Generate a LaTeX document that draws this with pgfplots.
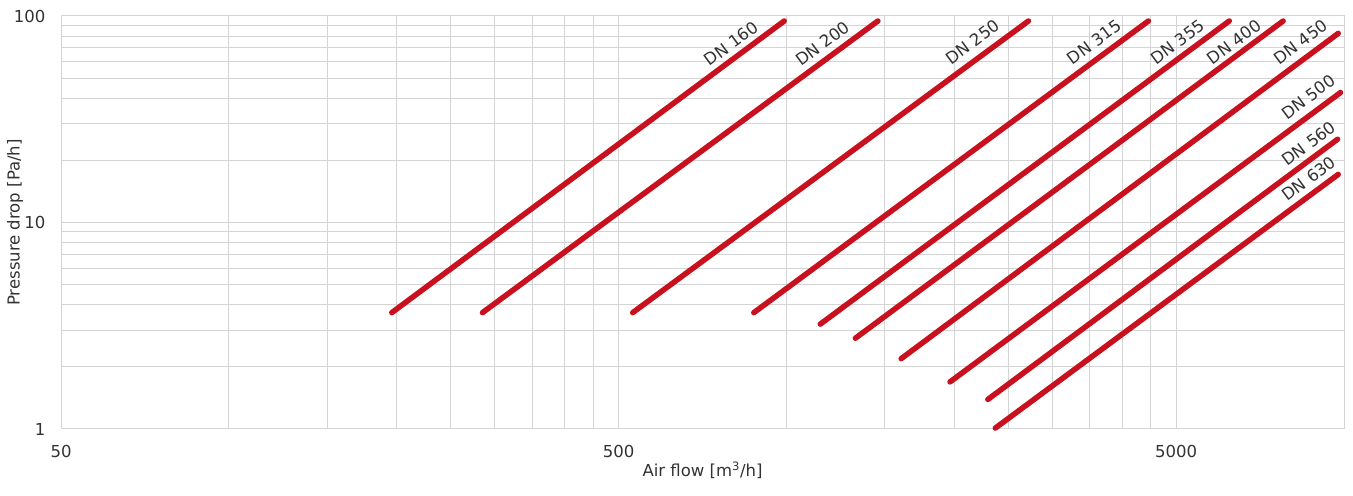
\documentclass[border=0pt]{standalone}
\usepackage{pgfplots}
\pgfplotsset{compat=1.18}
\usepackage{fontspec}
\setmainfont{DejaVu Sans}
\definecolor{linered}{RGB}{200,16,30}
\definecolor{gridgray}{RGB}{212,212,212}
\definecolor{txt}{RGB}{50,50,50}
\tikzset{dn/.style={draw=linered, line width=5.5pt, line cap=round, mark=none}}
\begin{document}
\begin{tikzpicture}
\begin{loglogaxis}[
  name=ax,
  scale only axis,
  width=1283pt, height=413pt,
  xmin=50, xmax=10000, ymin=1, ymax=100,
  xtick={50,500,5000}, xticklabels={50,500,5000},
  ytick={1,10,100}, yticklabels={1,10,100},
  minor xtick={100,150,200,250,300,350,400,450,1000,1500,2000,2500,3000,3500,4000,4500},
  minor ytick={2,3,4,5,6,7,8,9,20,30,40,50,60,70,80,90},
  grid=both,
  major grid style={gridgray, line width=1pt},
  minor grid style={gridgray, line width=1pt},
  axis line style={gridgray, line width=1pt},
  major tick length=0pt, minor tick length=0pt,
  tick style={draw=none},
  tick label style={font=\fontsize{16.5}{19}\selectfont, text=txt},
  xticklabel style={yshift=-13pt},
  yticklabel style={xshift=-12pt},
  label style={font=\fontsize{16.5}{19}\selectfont, text=txt},
  xlabel={Air flow [m\textsuperscript{3}/h]},
  ylabel={Pressure drop [Pa/h]},
  xlabel style={at={(axis description cs:0.5,0)}, anchor=center, yshift=-41pt},
  ylabel style={at={(axis description cs:0,0.5)}, anchor=center, yshift=46pt},
  clip=false,
]
% DN 160
\addplot[dn] coordinates {(196,3.66) (991,94.6)};
% DN 200
\addplot[dn] coordinates {(285,3.66) (1459,94.6)};
% DN 250
\addplot[dn] coordinates {(530,3.66) (2717,94.6)};
% DN 315
\addplot[dn] coordinates {(874,3.66) (4459,94.6)};
% DN 355
\addplot[dn] coordinates {(1150,3.22) (6226,94.6)};
% DN 400
\addplot[dn] coordinates {(1329,2.75) (7780,94.6)};
% DN 450
\addplot[dn] coordinates {(1606,2.19) (9765,82.4)};
% DN 500
\addplot[dn] coordinates {(1965,1.69) (9858,42.6)};
% DN 560
\addplot[dn] coordinates {(2297,1.39) (9737,25.3)};
% DN 630
\addplot[dn] coordinates {(2369,1.01) (9765,17.1)};
\begin{scope}[every node/.style={rotate=36.5, anchor=center, text=txt, font=\fontsize{16.5}{19}\selectfont, inner sep=0pt}]
\node at (axis cs:796,73.6) {DN 160};
\node at (axis cs:1161,73.6) {DN 200};
\node at (axis cs:2157,74.9) {DN 250};
\node at (axis cs:3564,74.9) {DN 315};
\node at (axis cs:5028,74.9) {DN 355};
\node at (axis cs:6351,74.9) {DN 400};
\node at (axis cs:8363,74.9) {DN 450};
\node at (axis cs:8628,40.6) {DN 500};
\node at (axis cs:8653,24.1) {DN 560};
\node at (axis cs:8653,16.35) {DN 630};
\end{scope}
\end{loglogaxis}
\path ([shift={(-61pt,-67pt)}]ax.south west) rectangle ([shift={(9pt,16pt)}]ax.north east);
\end{tikzpicture}
\end{document}
